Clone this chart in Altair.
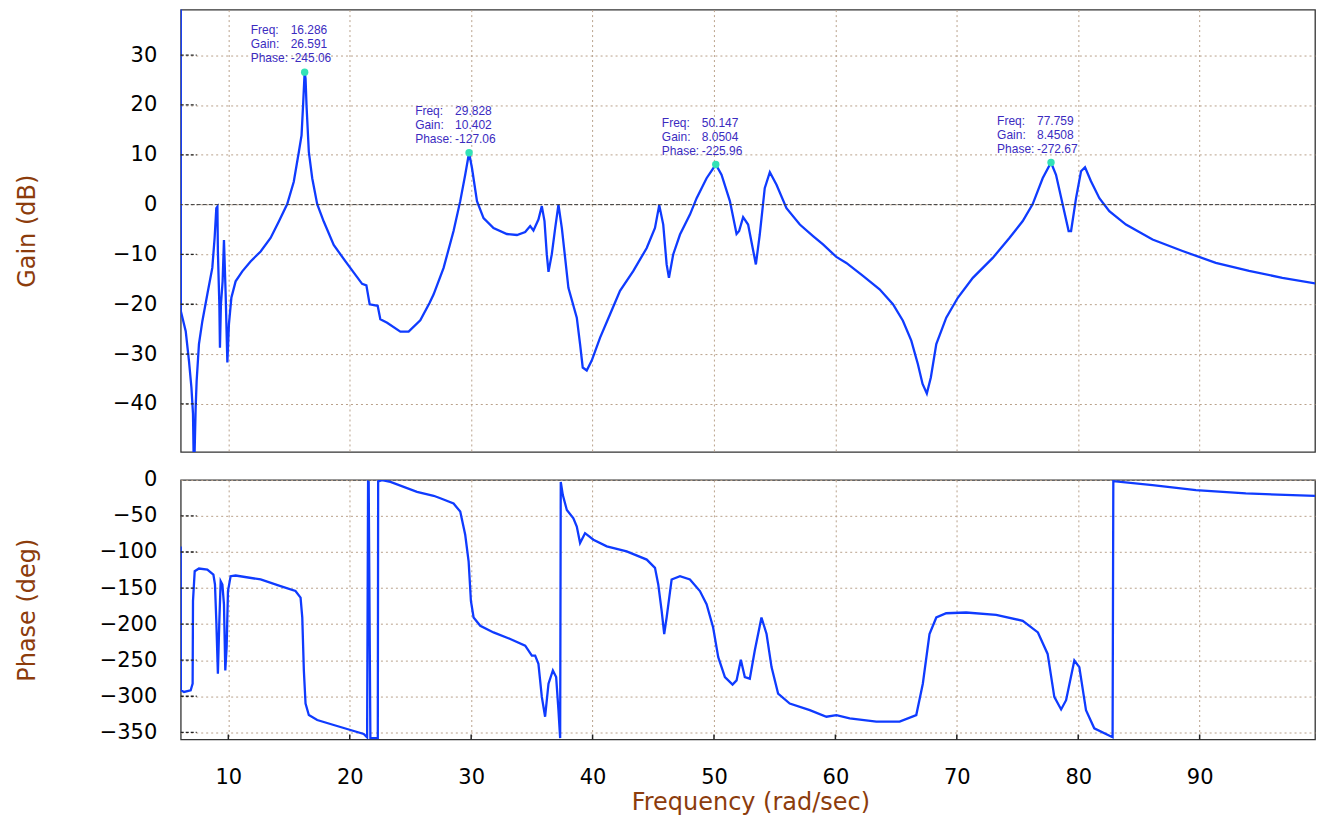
import altair as alt
import pandas as pd

# ---------------- data ----------------
gain_freq = [6.08, 6.09, 6.49, 6.76, 6.96, 7.09, 7.17, 7.31, 7.39, 7.58, 7.86, 8.27, 8.68, 8.87, 9.01, 9.10,
             9.14, 9.26, 9.31, 9.39, 9.53, 9.64, 9.78, 9.92, 10.05, 10.25, 10.60, 11.15, 11.83, 12.66, 13.48,
             14.16, 14.85, 15.39, 15.81, 16.03, 16.17, 16.286, 16.36, 16.44, 16.63, 16.91, 17.32, 17.86, 18.68,
             19.65, 20.47, 21.02, 21.37, 21.64, 22.30, 22.52, 23.08, 24.17, 24.85, 25.81, 26.58, 26.91, 27.73,
             28.55, 29.10, 29.51, 29.828, 30.07, 30.48, 31.02, 31.84, 32.94, 33.77, 34.45, 34.86, 35.13, 35.54,
             35.82, 36.04, 36.23, 36.37, 36.64, 36.92, 37.19, 37.47, 37.74, 38.01, 38.70, 38.97, 39.19, 39.52,
             39.93, 40.62, 41.44, 42.26, 43.36, 44.46, 45.14, 45.49, 45.82, 46.10, 46.29, 46.64, 47.20, 48.02,
             48.57, 49.39, 50.147, 50.62, 51.31, 51.86, 52.07, 52.40, 52.81, 53.45, 53.77, 54.18, 54.60, 55.15,
             55.97, 57.07, 58.16, 58.98, 60.08, 60.90, 62.27, 63.64, 64.74, 65.56, 66.25, 66.79, 67.18, 67.53,
             67.86, 68.31, 69.13, 70.08, 71.32, 72.96, 74.33, 75.43, 76.25, 77.07, 77.759, 78.17, 78.72, 79.21,
             79.41, 79.82, 80.23, 80.56, 81.05, 81.74, 82.56, 83.93, 86.12, 88.59, 91.33, 94.07, 96.81, 99.95]
gain_db = [45, -21.4, -25.4, -31.4, -36.7, -42, -55, -40.7, -35.4, -28, -23.4, -18, -12.7, -6.7, -0.7, -0.4,
           -9.4, -20, -28.7, -20, -15.4, -7.1, -18, -31.7, -24, -18.7, -15.4, -13.4, -11.4, -9.4, -6.7,
           -3.4, 0.1, 4.6, 10.6, 13.9, 20.6, 26.591, 25.3, 19.9, 10.6, 5.3, 0.1, -3.4, -8.1,
           -11.4, -14.1, -15.9, -16.2, -20, -20.3, -23, -23.7, -25.5, -25.5, -23.2, -19.7, -18, -12.7,
           -5.3, 0.7, 6, 10.402, 7.3, 0.7, -2.7, -4.7, -5.9, -6.1, -5.5, -4.3, -5.2, -3,
           -0.3, -3.3, -10, -13.5, -10, -4.7, 0, -4.7, -10.7, -16.7, -22.7, -28, -32.7, -33.3,
           -31.3, -26.7, -22, -17.3, -13.3, -8.7, -4.7, -0.1, -4, -12, -14.7, -10, -6, -2,
           1.3, 5.3, 8.0504, 6, 0.7, -5.9, -5.3, -2.5, -4, -12, -6, 3.3, 6.5, 4,
           -0.7, -4, -6.3, -8, -10.5, -11.7, -14.3, -17, -20, -23.3, -27.3, -32, -36, -37.9,
           -34.7, -28, -22.7, -18.7, -14.7, -10.7, -6.7, -3.3, 0.1, 5.3, 8.4508, 6, 0, -5.3,
           -5.3, 1.3, 6.7, 7.5, 4.7, 1.3, -1.3, -4, -7, -9.3, -11.7, -13.3, -14.7, -16]

phase_freq = [6.08, 6.09, 6.35, 6.90, 7.06, 7.09, 7.23, 7.58, 8.27, 8.77, 8.90, 9.01, 9.14, 9.26, 9.37, 9.51,
              9.64, 9.75, 9.86, 9.97, 10.19, 10.60, 12.66, 14.30, 15.53, 15.95, 16.09, 16.22, 16.36, 16.63,
              17.32, 18.68, 20.06, 21.15, 21.43, 21.51, 21.56, 21.70, 22.31, 22.34, 22.66, 23.35, 25.54, 26.91,
              27.46, 28.55, 29.10, 29.51, 29.79, 29.98, 30.20, 30.75, 31.84, 33.22, 34.45, 35.00, 35.27, 35.54,
              35.82, 36.09, 36.37, 36.73, 37.00, 37.19, 37.33, 37.38, 37.55, 37.88, 38.42, 38.70, 38.97, 39.38,
              40.07, 41.17, 42.81, 44.46, 45.14, 45.41, 45.69, 45.90, 46.10, 46.51, 47.20, 48.02, 48.84, 49.39,
              49.93, 50.35, 50.90, 51.53, 51.86, 52.21, 52.54, 52.95, 53.36, 53.91, 54.33, 54.74, 55.28, 56.24,
              57.89, 59.26, 60.08, 61.18, 63.37, 65.29, 66.66, 67.20, 67.75, 68.31, 69.13, 70.77, 73.24, 75.43,
              76.68, 77.48, 78.03, 78.59, 79.00, 79.68, 80.09, 80.64, 81.32, 82.83, 82.89, 86.12, 89.69, 93.80,
              99.95]
phase_deg = [-92.2, -291.7, -294, -291.7, -282.5, -167.9, -126.6, -122.9, -124.3, -131.2, -145, -195.4,
             -268.8, -195.4, -140.4, -145, -172.5, -264.2, -232.1, -154.1, -133.5, -132.6, -138.1, -147.2,
             -154.1, -163.3, -190.8, -264.2, -310, -326.1, -333, -339.9, -346.8, -352.3, -357, -2.6, -3,
             -358, -358, -2, -0.3, -2.8, -16.5, -22, -25.5, -32.6, -44, -76.1, -112.8, -167.9, -190.8,
             -202.3, -211.5, -220.6, -229.8, -243.6, -243.6, -255, -300.9, -328.4, -282.6, -264.2, -273.4,
             -319.3, -358, -2.8, -21.1, -41.7, -53.2, -64.7, -87.6, -73.9, -83, -92.2, -99.1, -110.5, -122,
             -145, -181.6, -213.7, -190.8, -138.1, -133.5, -138.1, -154.1, -172.5, -204.6, -245.9, -273.4,
             -283.9, -278, -249.5, -273.4, -275.7, -236.7, -190.8, -213.7, -259.6, -296.3, -310.1, -319.3,
             -328.4, -326.1, -330.7, -335.3, -335.3, -326.1, -282.6, -213.7, -190.8, -184.9, -183.9, -187.1,
             -195.4, -211.5, -241.3, -300.9, -318.3, -305.5, -250.5, -259.6, -319.3, -344.5, -356.9, -1.8,
             -7.3, -14.2, -18.8, -22.5]

peak_freq = [16.286, 29.828, 50.147, 77.759]
peak_gain = [26.591, 10.402, 8.0504, 8.4508]
peak_phase = [-245.06, -127.06, -225.96, -272.67]

freq_ticks = [10, 20, 30, 40, 50, 60, 70, 80, 90]
gain_ticks = [-40, -30, -20, -10, 0, 10, 20, 30]
phase_ticks = [-350, -300, -250, -200, -150, -100, -50, 0]

# ---------------- styling ----------------
LINE = "#0f3bff"
DOT = "#33e2b6"
ANN = "#3b2bbf"
TITLE = "#8c3c0c"
GRID = "#b9a18b"
FONT = "DejaVu Sans"
W = 1136
H_TOP = 443
H_BOT = 260
X_DOMAIN = [6.08, 6.08 + W / 12.16]

gain_df = pd.DataFrame({"f": gain_freq, "g": gain_db})
phase_df = pd.DataFrame({"f": phase_freq, "p": phase_deg})
peaks_df = pd.DataFrame({
    "f": peak_freq, "g": peak_gain,
    "fs": [str(v) for v in peak_freq],
    "gs": [str(v) for v in peak_gain],
    "ps": [str(v) for v in peak_phase],
})
zero_df = pd.DataFrame({"g": [0]})
gtick_df = pd.DataFrame({"g": [v for v in gain_ticks if v != 0]})
ptick_df = pd.DataFrame({"p": [v for v in phase_ticks if v != 0]})
ftick_df = pd.DataFrame({"f": freq_ticks})

xs = alt.Scale(domain=X_DOMAIN, nice=False, zero=False)
ys_top = alt.Scale(domain=[-49.64, 39.14], nice=False, zero=False)
ys_bot = alt.Scale(domain=[-360, 0], nice=False, zero=False)

ax_x_top = alt.Axis(values=freq_ticks, labels=False, title=None, grid=True, domain=False, ticks=False)
ax_y_top = alt.Axis(values=gain_ticks, title="Gain (dB)", titleX=-146.7, titleAngle=270,
                    titleBaseline="alphabetic", titleAlign="center", labelPadding=24,
                    labelOverlap=False, labelFlush=False)
ax_x_bot = alt.Axis(values=freq_ticks, title="Frequency (rad/sec)", grid=True, domain=False, ticks=False,
                    labelPadding=27, labelOverlap=False, labelFlush=False,
                    titleX=(180 + 1321) / 2 - 180, titleY=70, titleBaseline="alphabetic",
                    titleAlign="center", titleFontSize=24)
ax_y_bot = alt.Axis(values=phase_ticks, title="Phase (deg)", titleX=-146.7, titleAngle=270,
                    titleBaseline="alphabetic", titleAlign="center", labelPadding=24,
                    labelOverlap=False, labelFlush=False)

XT = alt.X("f:Q", scale=xs, axis=ax_x_top, title=None)
YT = alt.Y("g:Q", scale=ys_top, axis=ax_y_top, title="Gain (dB)")
XB = alt.X("f:Q", scale=xs, axis=ax_x_bot, title="Frequency (rad/sec)")
YB = alt.Y("p:Q", scale=ys_bot, axis=ax_y_bot, title="Phase (deg)")

gain_line = alt.Chart(gain_df).mark_line(color=LINE, strokeWidth=2.3, clip=True).encode(x=XT, y=YT)
zero_rule = alt.Chart(zero_df).mark_rule(color="#3a3a3a", strokeDash=[4, 2], strokeWidth=1).encode(y=YT)
gain_lticks = alt.Chart(gtick_df).mark_rule(color="#222222", strokeDash=[3, 2], strokeWidth=1.3).encode(
    y=YT, x=alt.value(0), x2=alt.value(16))
dots = alt.Chart(peaks_df).mark_circle(size=55, color=DOT, opacity=1).encode(x=XT, y=YT)

text_layers = []
for lab, col, dy in [("Freq:", "fs", -42), ("Gain:", "gs", -28), ("Phase:", "ps", -14)]:
    text_layers.append(alt.Chart(peaks_df).mark_text(
        text=lab, align="left", baseline="middle", dx=-54, dy=dy, font="Liberation Sans",
        fontSize=12, color=ANN).encode(x=XT, y=YT))
    text_layers.append(alt.Chart(peaks_df).mark_text(
        align="left", baseline="middle", dx=-14, dy=dy, font="Liberation Sans",
        fontSize=12, color=ANN).encode(x=XT, y=YT, text=alt.Text(f"{col}:N")))

top = alt.layer(gain_line, gain_lticks, zero_rule, dots, *text_layers).properties(width=W, height=H_TOP)

phase_line = alt.Chart(phase_df).mark_line(color=LINE, strokeWidth=2.3, clip=True).encode(x=XB, y=YB)
phase_lticks = alt.Chart(ptick_df).mark_rule(color="#222222", strokeDash=[3, 2], strokeWidth=1.3).encode(
    y=YB, x=alt.value(0), x2=alt.value(16))
phase_bticks = alt.Chart(ftick_df).mark_rule(color="#222222", strokeWidth=1.5).encode(
    x=XB, y=alt.value(H_BOT - 5), y2=alt.value(H_BOT))

bottom = alt.layer(phase_line, phase_lticks, phase_bticks).properties(width=W, height=H_BOT)

chart = alt.vconcat(top, bottom, spacing=15).properties(
    padding={"left": 6, "top": 0, "right": 0, "bottom": 0},
    background="white"
).configure_view(
    stroke="#333333", strokeWidth=1.3
).configure_axis(
    gridColor=GRID, gridDash=[2, 3], gridWidth=1, gridOpacity=1,
    labelFont=FONT, labelFontSize=21, labelColor="#000000",
    titleFont=FONT, titleFontSize=24, titleColor=TITLE, titleFontWeight="normal",
    domain=False, ticks=False
)

chart.save("out.html", embed_options={"renderer": "svg", "actions": False})
